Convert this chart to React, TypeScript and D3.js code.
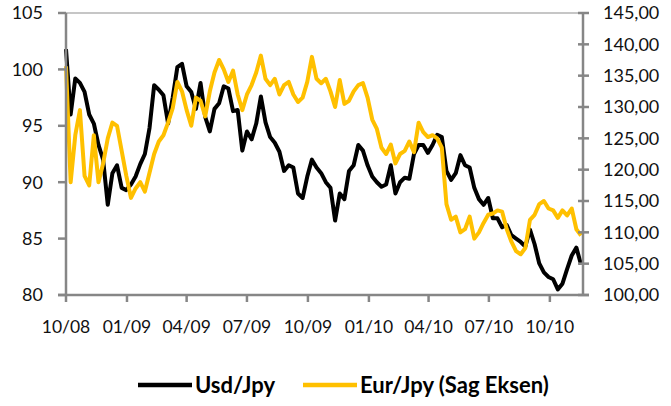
import * as d3 from "d3";
import { useEffect, useRef } from "react";

// weekly closes, first week starting 01.10.2008
const startDate = new Date(2008, 9, 1);

const usdJpy = [
    101.8, 96.0, 99.2, 98.8, 98.0, 96.0, 95.2, 93.3, 92.0, 88.0,
    90.8, 91.5, 89.5, 89.3, 89.8, 90.5, 91.6, 92.5, 94.8, 98.6,
    98.2, 97.7, 95.2, 97.5, 100.2, 100.5, 98.5, 98.0, 96.5, 98.8,
    95.8, 94.5, 96.5, 97.0, 98.5, 98.3, 96.3, 96.4, 92.8, 94.5,
    93.8, 95.2, 97.6, 95.3, 94.0, 93.5, 92.7, 91.0, 91.5, 91.3,
    89.0, 88.6, 90.5, 92.0, 91.3, 90.8, 90.0, 89.5, 86.6, 89.0,
    88.5, 91.0, 91.5, 93.3, 92.8, 91.5, 90.5, 90.0, 89.6, 89.8,
    91.5, 89.0, 90.0, 90.4, 90.3, 92.5, 93.3, 93.3, 92.6, 93.3,
    94.2, 94.0, 91.0, 90.2, 90.8, 92.4, 91.5, 91.3, 89.5, 88.5,
    88.0, 88.6, 86.8, 86.8, 86.0, 86.2, 85.3, 85.0, 84.7, 84.3,
    85.8, 84.5, 82.8, 82.0, 81.6, 81.4, 80.5, 81.0, 82.3, 83.5,
    84.2, 82.7,
];

const eurJpy = [
    136.5, 118.0, 125.5, 129.5, 119.0, 117.5, 125.5, 118.0, 121.0, 125.0,
    127.5, 127.0, 123.0, 119.0, 115.5, 117.0, 118.0, 116.5, 119.5, 122.5,
    124.5, 125.5, 127.5, 129.8, 134.0, 132.5, 129.5, 127.0, 131.5, 131.0,
    128.5, 132.5, 135.5, 137.5, 136.0, 134.0, 135.8, 132.0, 129.5, 132.0,
    133.5, 135.5, 138.2, 134.5, 133.5, 134.5, 132.0, 133.5, 134.0, 132.0,
    130.8, 131.5, 134.0, 138.0, 134.5, 133.8, 134.5, 132.5, 130.0, 134.3,
    130.5, 131.0, 132.5, 133.5, 133.8, 131.5, 128.0, 126.5, 123.5, 122.5,
    124.0, 121.0, 122.5, 123.0, 124.5, 122.8, 127.5, 126.0, 125.2, 125.5,
    125.0, 123.5, 114.5, 112.0, 112.5, 110.0, 110.5, 112.5, 109.0, 110.0,
    111.5, 112.8, 113.0, 113.5, 113.3, 110.5, 108.5, 107.0, 106.5, 107.5,
    112.0, 112.8, 114.5, 115.0, 113.8, 113.5, 112.3, 113.5, 112.7, 113.8,
    110.5, 109.5,
];

const leftTicks = [80, 85, 90, 95, 100, 105];
const rightTicks = [100, 105, 110, 115, 120, 125, 130, 135, 140, 145];
const seriesNames = ["Usd/Jpy", "Eur/Jpy (Sag Eksen)"];

export default function App() {
    const ref = useRef(null);
    const width = 671,
        height = 406;
    const left = 66, right = 583, top = 13, bottom = 295;

    useEffect(() => {
        const svg = d3.select(ref.current);
        svg.selectAll("*").remove();

        const font = "Lato, 'Open Sans', sans-serif";
        const axisColor = "#868686";

        const x = d3.scaleTime()
            .domain([startDate, new Date(2010, 10, 20)])
            .range([left, right]);
        const yL = d3.scaleLinear().domain([80, 105]).range([bottom, top]);
        const yR = d3.scaleLinear().domain([100, 145]).range([bottom, top]);

        const dateOf = (i: number) => d3.timeDay.offset(startDate, i * 7);

        // top border
        svg.append("line")
            .attr("x1", left).attr("x2", right)
            .attr("y1", top).attr("y2", top)
            .attr("stroke", "#c6c6c6").attr("stroke-width", 2);

        const lineL = d3.line<number>()
            .x((_d, i) => x(dateOf(i)))
            .y(d => yL(d));
        const lineR = d3.line<number>()
            .x((_d, i) => x(dateOf(i)))
            .y(d => yR(d));

        svg.append("path")
            .attr("d", lineL(usdJpy))
            .attr("fill", "none")
            .attr("stroke", "#000")
            .attr("stroke-width", 4)
            .attr("stroke-linejoin", "round");

        svg.append("path")
            .attr("d", lineR(eurJpy))
            .attr("fill", "none")
            .attr("stroke", "#FFC000")
            .attr("stroke-width", 4)
            .attr("stroke-linejoin", "round");

        // left axis
        svg.append("line")
            .attr("x1", left).attr("x2", left)
            .attr("y1", top).attr("y2", bottom)
            .attr("stroke", axisColor).attr("stroke-width", 2.5);
        svg.selectAll(".lt")
            .data(leftTicks)
            .join("line")
            .attr("x1", left - 8).attr("x2", left)
            .attr("y1", d => yL(d)).attr("y2", d => yL(d))
            .attr("stroke", axisColor).attr("stroke-width", 2.5);
        svg.selectAll(".ll")
            .data(leftTicks)
            .join("text")
            .attr("x", 43)
            .attr("y", d => yL(d))
            .attr("dy", "0.35em")
            .attr("text-anchor", "end")
            .style("font-family", font)
            .style("font-size", "18px")
            .attr("fill", "#111")
            .text(d => d);

        // right axis
        svg.append("line")
            .attr("x1", right).attr("x2", right)
            .attr("y1", top).attr("y2", bottom)
            .attr("stroke", axisColor).attr("stroke-width", 2.5);
        svg.selectAll(".rt")
            .data(rightTicks)
            .join("line")
            .attr("x1", right - 5).attr("x2", right + 6)
            .attr("y1", d => yR(d)).attr("y2", d => yR(d))
            .attr("stroke", axisColor).attr("stroke-width", 2.5);
        svg.selectAll(".rl")
            .data(rightTicks)
            .join("text")
            .attr("x", 603)
            .attr("y", d => yR(d))
            .attr("dy", "0.35em")
            .style("font-family", font)
            .style("font-size", "18px")
            .attr("fill", "#111")
            .text(d => d3.format(".2f")(d).replace(".", ","));

        // bottom axis
        const xTicks = x.ticks(d3.timeMonth.every(3) as any);
        svg.append("line")
            .attr("x1", left - 8).attr("x2", right + 6)
            .attr("y1", bottom).attr("y2", bottom)
            .attr("stroke", axisColor).attr("stroke-width", 2.5);
        svg.selectAll(".bt")
            .data(xTicks)
            .join("line")
            .attr("x1", d => x(d)).attr("x2", d => x(d))
            .attr("y1", bottom).attr("y2", bottom + 7)
            .attr("stroke", axisColor).attr("stroke-width", 2.5);
        svg.selectAll(".bl")
            .data(xTicks)
            .join("text")
            .attr("x", d => x(d))
            .attr("y", 327)
            .attr("dy", "0.35em")
            .attr("text-anchor", "middle")
            .style("font-family", font)
            .style("font-size", "17.5px")
            .attr("fill", "#111")
            .text(d => d3.timeFormat("%m/%y")(d));

        // legend
        const legend = [
            { name: seriesNames[0], color: "#000", x0: 138 },
            { name: seriesNames[1], color: "#FFC000", x0: 303 },
        ];
        const lg = svg.selectAll(".lg").data(legend).join("g");
        lg.append("line")
            .attr("x1", d => d.x0).attr("x2", d => d.x0 + 54)
            .attr("y1", 385).attr("y2", 385)
            .attr("stroke", d => d.color).attr("stroke-width", 4.5);
        lg.append("text")
            .attr("x", d => d.x0 + 57)
            .attr("y", 385)
            .attr("dy", "0.35em")
            .style("font-family", font)
            .style("font-size", "22px")
            .style("font-weight", "bold")
            .attr("fill", "#000")
            .text(d => d.name);
    }, []);

    return (
        <div>
            <svg ref={ref} width={width} height={height}
                style={{ position: "absolute", left: 0, top: 0, background: "#fff" }}>
            </svg>
        </div>
    );
}
